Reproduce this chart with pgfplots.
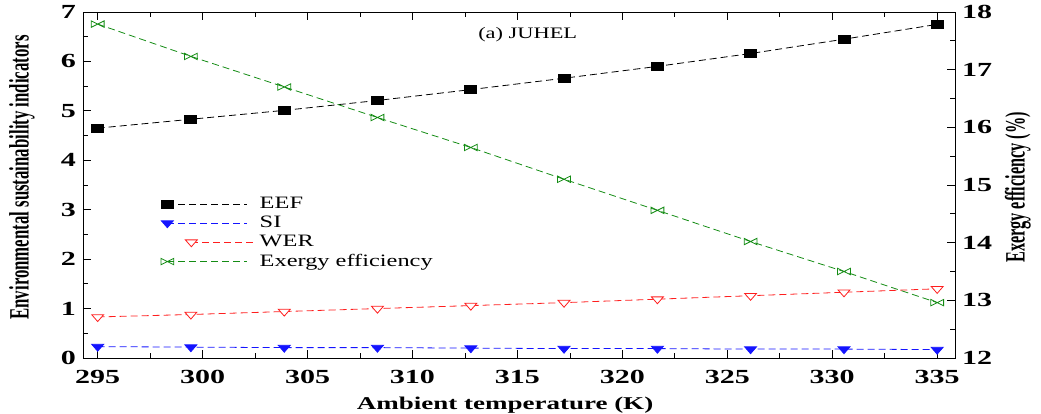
\documentclass[border=0pt]{standalone}
\usepackage{fontspec}
\setmainfont{Liberation Serif}
\newfontfamily\wideserif{Liberation Serif}[FakeStretch=1.4]
\newfontfamily\tickfont{Liberation Serif}[FakeStretch=1.5]
\usepackage{graphicx}
\usepackage{pgfplots}
\pgfplotsset{compat=1.18}

\definecolor{exgreen}{RGB}{20,140,20}
\definecolor{siblue}{RGB}{20,20,255}
\definecolor{wered}{RGB}{255,30,30}

% bow tie mark for exergy efficiency
\pgfdeclareplotmark{bowtie}{%
  \pgfpathmoveto{\pgfqpoint{-1.4\pgfplotmarksize}{0.7\pgfplotmarksize}}%
  \pgfpathlineto{\pgfqpoint{1.4\pgfplotmarksize}{-0.7\pgfplotmarksize}}%
  \pgfpathlineto{\pgfqpoint{1.4\pgfplotmarksize}{0.7\pgfplotmarksize}}%
  \pgfpathlineto{\pgfqpoint{-1.4\pgfplotmarksize}{-0.7\pgfplotmarksize}}%
  \pgfpathclose\pgfusepathqstroke}

\pgfplotsset{
  common/.style={
    scale only axis, width=436pt, height=173pt,
    xmin=294.3, xmax=335.85,
    /pgf/number format/assume math mode=true,
    ticklabel style={font=\tickfont\bfseries\fontsize{10}{11}\selectfont},
    minor x tick num=1, minor y tick num=1,
    tick style={black, thin},
    major tick length=4pt, minor tick length=2.5pt,
  },
  dl/.style={dash pattern=on 3.5pt off 2pt},
  legend image code/.code={%
    \draw[mark repeat=2,mark phase=1,#1] plot coordinates {(0pt,0pt) (40pt,0pt)};},
  % the WER entry sits a little to the right in the legend
  werlegend/.style={legend image code/.code={%
    \draw[mark repeat=2,mark phase=1,##1] plot coordinates {(12pt,0pt) (44pt,0pt)};}},
}

\begin{document}
\begin{tikzpicture}
\begin{axis}[common,
  ymin=0, ymax=7, ytick={0,1,...,7},
  xtick={295,300,...,335},
  xtick pos=both, ytick pos=left,
  xticklabel style={yshift=-2.5pt},
  xlabel={\tickfont\bfseries\fontsize{9}{10}\selectfont Ambient temperature (K)},
  xlabel style={at={(axis description cs:0.484,0)}, anchor=north, inner sep=0pt, yshift=-19.5pt},
  ylabel={\scalebox{0.6}[1]{\bfseries\fontsize{14}{15}\selectfont Environmental sustainability indicators}},
  ylabel style={at={(axis description cs:-0.07,0.522)}, anchor=center},
  legend style={draw=none, fill=none, font=\wideserif\fontsize{8.7}{9}\selectfont,
    at={(0.082,0.49)}, anchor=north west, row sep=-1.7pt,
    /tikz/every even column/.append style={column sep=4pt}},
  legend cell align=left,
]
\addplot[black, dl, mark=square*, mark size=2pt, mark options={solid, xscale=1.5}]
  coordinates {(295,4.65) (299.44,4.83) (303.89,5.01) (308.33,5.21) (312.78,5.43)
               (317.22,5.66) (321.67,5.90) (326.11,6.16) (330.56,6.45) (335,6.75)};
\addlegendentry{EEF}
\addplot[siblue, dl, mark=triangle*, mark size=2.3pt, mark options={solid, rotate=180, xscale=1.5}]
  coordinates {(295,0.23) (299.44,0.22) (303.89,0.21) (308.33,0.21) (312.78,0.20)
               (317.22,0.19) (321.67,0.19) (326.11,0.18) (330.56,0.18) (335,0.17)};
\addlegendentry{SI}
\addplot[wered, dl, mark=triangle*, mark size=2.3pt, mark options={solid, rotate=180, xscale=1.5, fill=white}, werlegend]
  coordinates {(295,0.83) (299.44,0.88) (303.89,0.94) (308.33,1.00) (312.78,1.06)
               (317.22,1.12) (321.67,1.19) (326.11,1.26) (330.56,1.33) (335,1.40)};
\addlegendentry{WER}
\addlegendimage{exgreen, dl, mark=bowtie, mark size=2.3pt, mark options={solid}}
\addlegendentry{Exergy efficiency}
\node[font=\wideserif\fontsize{8}{9}\selectfont] at (axis description cs:0.51,0.935) {(a) JUHEL};
\end{axis}
\begin{axis}[common,
  ymin=12, ymax=18, ytick={12,13,...,18},
  axis x line=none, axis y line*=right, ytick pos=right,
  ylabel={\scalebox{0.58}[1]{\bfseries\fontsize{14}{15}\selectfont Exergy efficiency (\%)}},
  ylabel style={at={(axis description cs:1.0722,0.493)}, anchor=center},
]
\addplot[exgreen, dl, mark=bowtie, mark size=2.3pt, mark options={solid}]
  coordinates {(295,17.79) (299.44,17.23) (303.89,16.70) (308.33,16.17) (312.78,15.65)
               (317.22,15.10) (321.67,14.56) (326.11,14.02) (330.56,13.50) (335,12.96)};
\coordinate (sw) at (rel axis cs:0,0);
\coordinate (ne) at (rel axis cs:1,1);
\end{axis}
\pgfresetboundingbox
\path ([xshift=-41.5pt,yshift=-28pt]sw) rectangle ([xshift=43pt,yshift=6pt]ne);
\end{tikzpicture}
\end{document}
